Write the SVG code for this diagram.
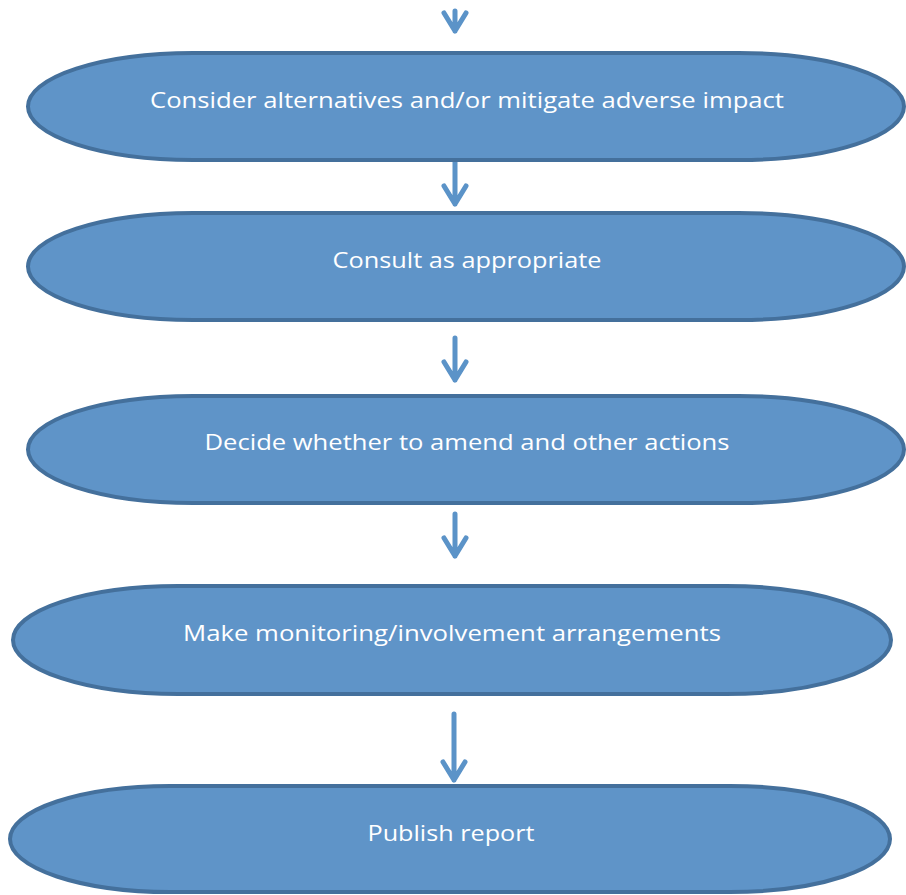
<svg xmlns="http://www.w3.org/2000/svg" width="906" height="895" viewBox="0 0 906 895">
<style>
.node rect{fill:#5f94c8;stroke:#44709c;stroke-width:4}
.node text{fill:#ffffff;font-family:"Open Sans","Noto Sans","Liberation Sans",sans-serif;font-size:22px;text-anchor:middle}
.conn path{fill:none;stroke:#5b93c8;stroke-width:5;stroke-linecap:round;stroke-linejoin:round}
</style>
<rect width="906" height="895" fill="#ffffff"/>
<g class="conn" id="connectors">
<path d="M455 11 V31 M444 13 L455 31 L466 13"/>
<path d="M455 162 V204 M444 186 L455 204 L466 186"/>
<path d="M455 338 V380 M444 362 L455 380 L466 362"/>
<path d="M455 514 V556 M444 538 L455 556 L466 538"/>
<path d="M454 714 V780 M443 762 L454 780 L465 762"/>
</g>
<g class="node" id="n1"><rect x="28" y="53" width="876" height="107" rx="165" ry="53.5"/><text x="467" y="108" textLength="634" lengthAdjust="spacingAndGlyphs">Consider alternatives and/or mitigate adverse impact</text></g>
<g class="node" id="n2"><rect x="28" y="213" width="876" height="107" rx="165" ry="53.5"/><text x="467" y="268" textLength="269" lengthAdjust="spacingAndGlyphs">Consult as appropriate</text></g>
<g class="node" id="n3"><rect x="28" y="396" width="876" height="107" rx="165" ry="53.5"/><text x="467" y="450" textLength="525" lengthAdjust="spacingAndGlyphs">Decide whether to amend and other actions</text></g>
<g class="node" id="n4"><rect x="13" y="586" width="878" height="108" rx="165" ry="54"/><text x="452" y="641" textLength="538" lengthAdjust="spacingAndGlyphs">Make monitoring/involvement arrangements</text></g>
<g class="node" id="n5"><rect x="10" y="786" width="880" height="106" rx="160" ry="53"/><text x="451" y="841" textLength="167" lengthAdjust="spacingAndGlyphs">Publish report</text></g>
</svg>
